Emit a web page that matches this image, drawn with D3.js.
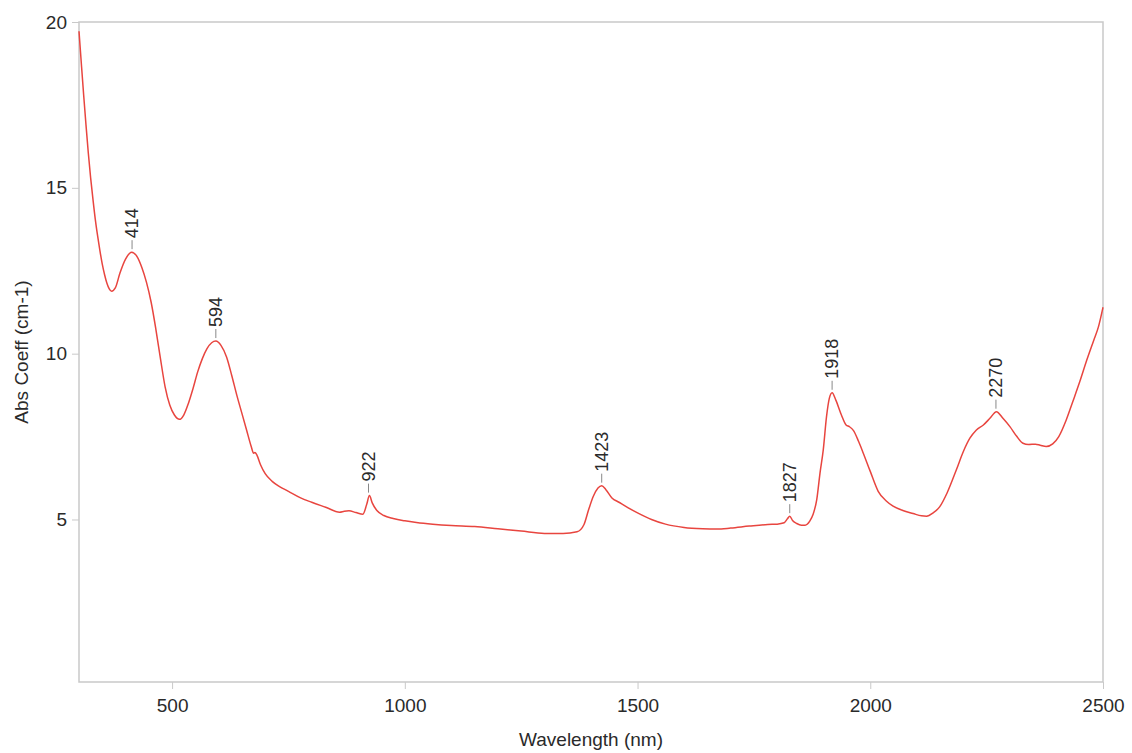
<!DOCTYPE html>
<html>
<head>
<meta charset="utf-8">
<script src="https://cdn.jsdelivr.net/npm/d3@7"></script>
<style>
  body { margin: 0; background: #fff; }
  text { font-family: Arial, "Liberation Sans", sans-serif; }
</style>
</head>
<body>
<div id="container"></div>
<script>
// spectrum (nm, cm-1)
const wavelength = [300,305,310,315,320,325,330,335,340,345,350,355,360,365,370,378,388,400,413,425,435,445,455,465,475,485,495,505,516,525,535,545,555,565,575,585,594,605,617,628,639,650,660,670,675,678,682,690,700,715,730,750,775,800,830,860,870,880,895,910,918,924,930,940,955,975,1000,1025,1060,1100,1150,1200,1250,1300,1340,1370,1385,1395,1405,1415,1423,1432,1445,1460,1480,1500,1530,1560,1600,1640,1670,1700,1740,1780,1800,1815,1822,1827,1833,1842,1852,1860,1870,1877,1885,1892,1899,1906,1912,1918,1926,1938,1948,1955,1964,1975,1985,2000,2017,2035,2049,2070,2092,2110,2121,2135,2149,2165,2185,2200,2214,2228,2243,2257,2271,2285,2300,2315,2328,2340,2355,2365,2378,2392,2405,2421,2435,2450,2465,2480,2490,2500]
const absCoeff = [19.72,18.75,17.8,16.9,16.05,15.3,14.65,14.05,13.55,13.1,12.7,12.38,12.12,11.95,11.88,11.98,12.43,12.85,13.06,12.92,12.6,12.15,11.55,10.75,9.85,9.0,8.45,8.15,8.02,8.15,8.5,8.95,9.45,9.85,10.15,10.33,10.38,10.25,9.9,9.35,8.75,8.2,7.7,7.2,7.0,7.02,6.95,6.65,6.38,6.15,6.0,5.85,5.66,5.52,5.37,5.22,5.25,5.26,5.21,5.16,5.45,5.72,5.5,5.27,5.12,5.03,4.96,4.91,4.86,4.82,4.79,4.72,4.65,4.58,4.58,4.63,4.85,5.3,5.7,5.95,6.02,5.9,5.65,5.52,5.35,5.2,5.0,4.86,4.76,4.72,4.71,4.74,4.8,4.85,4.86,4.9,5.02,5.1,4.97,4.88,4.83,4.83,4.95,5.15,5.6,6.4,7.1,8.1,8.65,8.82,8.6,8.15,7.85,7.8,7.68,7.35,7.0,6.45,5.85,5.55,5.4,5.27,5.18,5.11,5.1,5.2,5.38,5.8,6.5,7.05,7.45,7.7,7.85,8.05,8.25,8.05,7.8,7.5,7.3,7.26,7.27,7.24,7.2,7.28,7.5,8.0,8.55,9.15,9.8,10.4,10.8,11.4]

// labelled peaks
const peakNm = [414, 594, 922, 1423, 1827, 1918, 2270]
const peakVal = [13.06, 10.38, 5.72, 6.02, 5.1, 8.82, 8.25]

const xTicks = [500, 1000, 1500, 2000, 2500]
const yTicks = [5, 10, 15, 20]

const width = 1132
const height = 753
const m = { left: 79, right: 1103, top: 22, bottom: 682 }

const svg = d3.create("svg")
  .attr("width", width)
  .attr("height", height)
container.append(svg.node())

const x = d3.scaleLinear().domain([300, 2500]).range([m.left, m.right])
const y = d3.scaleLinear().domain([0.1, 20]).range([m.bottom, m.top])

const axisColor = "#c9c9c9"
const textColor = "#2a2a2a"

// frame
svg.append("rect")
  .attr("x", m.left).attr("y", m.top)
  .attr("width", m.right - m.left).attr("height", m.bottom - m.top)
  .style("fill", "none").style("stroke", axisColor).style("stroke-width", 1.5)

const xAxis = svg.append("g")
  .attr("transform", `translate(0,${m.bottom})`)
  .call(d3.axisBottom(x).tickValues(xTicks).tickFormat(d3.format("d")).tickSize(7).tickPadding(10))
xAxis.select(".domain").remove()
xAxis.selectAll("line").style("stroke", axisColor)
xAxis.selectAll("text").style("font-size", "19px").style("fill", textColor)

const yAxis = svg.append("g")
  .attr("transform", `translate(${m.left},0)`)
  .call(d3.axisLeft(y).tickValues(yTicks).tickSize(7).tickPadding(5))
yAxis.select(".domain").remove()
yAxis.selectAll("line").style("stroke", axisColor)
yAxis.selectAll("text").style("font-size", "19px").style("fill", textColor)

// axis titles
svg.append("text")
  .attr("x", (m.left + m.right) / 2)
  .attr("y", 746)
  .attr("text-anchor", "middle")
  .style("font-size", "19px").style("fill", textColor)
  .text("Wavelength (nm)")

svg.append("text")
  .attr("transform", `translate(28,${(m.top + m.bottom) / 2}) rotate(-90)`)
  .attr("text-anchor", "middle")
  .style("font-size", "19px").style("fill", textColor)
  .text("Abs Coeff (cm-1)")

// spectrum
const pts = wavelength.map((w, i) => [w, absCoeff[i]])
svg.append("path")
  .datum(pts)
  .attr("d", d3.line().x(d => x(d[0])).y(d => y(d[1])).curve(d3.curveMonotoneX))
  .style("fill", "none")
  .style("stroke", "#e8453f")
  .style("stroke-width", 1.5)

// peak markers
const peaks = peakNm.map((p, i) => [p, peakVal[i]])
const pg = svg.selectAll(".peak")
  .data(peaks)
  .join("g")
  .attr("class", "peak")
  .attr("transform", d => `translate(${x(d[0])},${y(d[1])})`)

pg.append("line")
  .attr("y1", -3).attr("y2", -12)
  .style("stroke", "#888").style("stroke-width", 1)

pg.append("text")
  .attr("transform", "translate(0,-14) rotate(-90)")
  .attr("dy", "0.35em")
  .style("font-size", "18px").style("fill", textColor)
  .text(d => d[0])
</script>
</body>
</html>
